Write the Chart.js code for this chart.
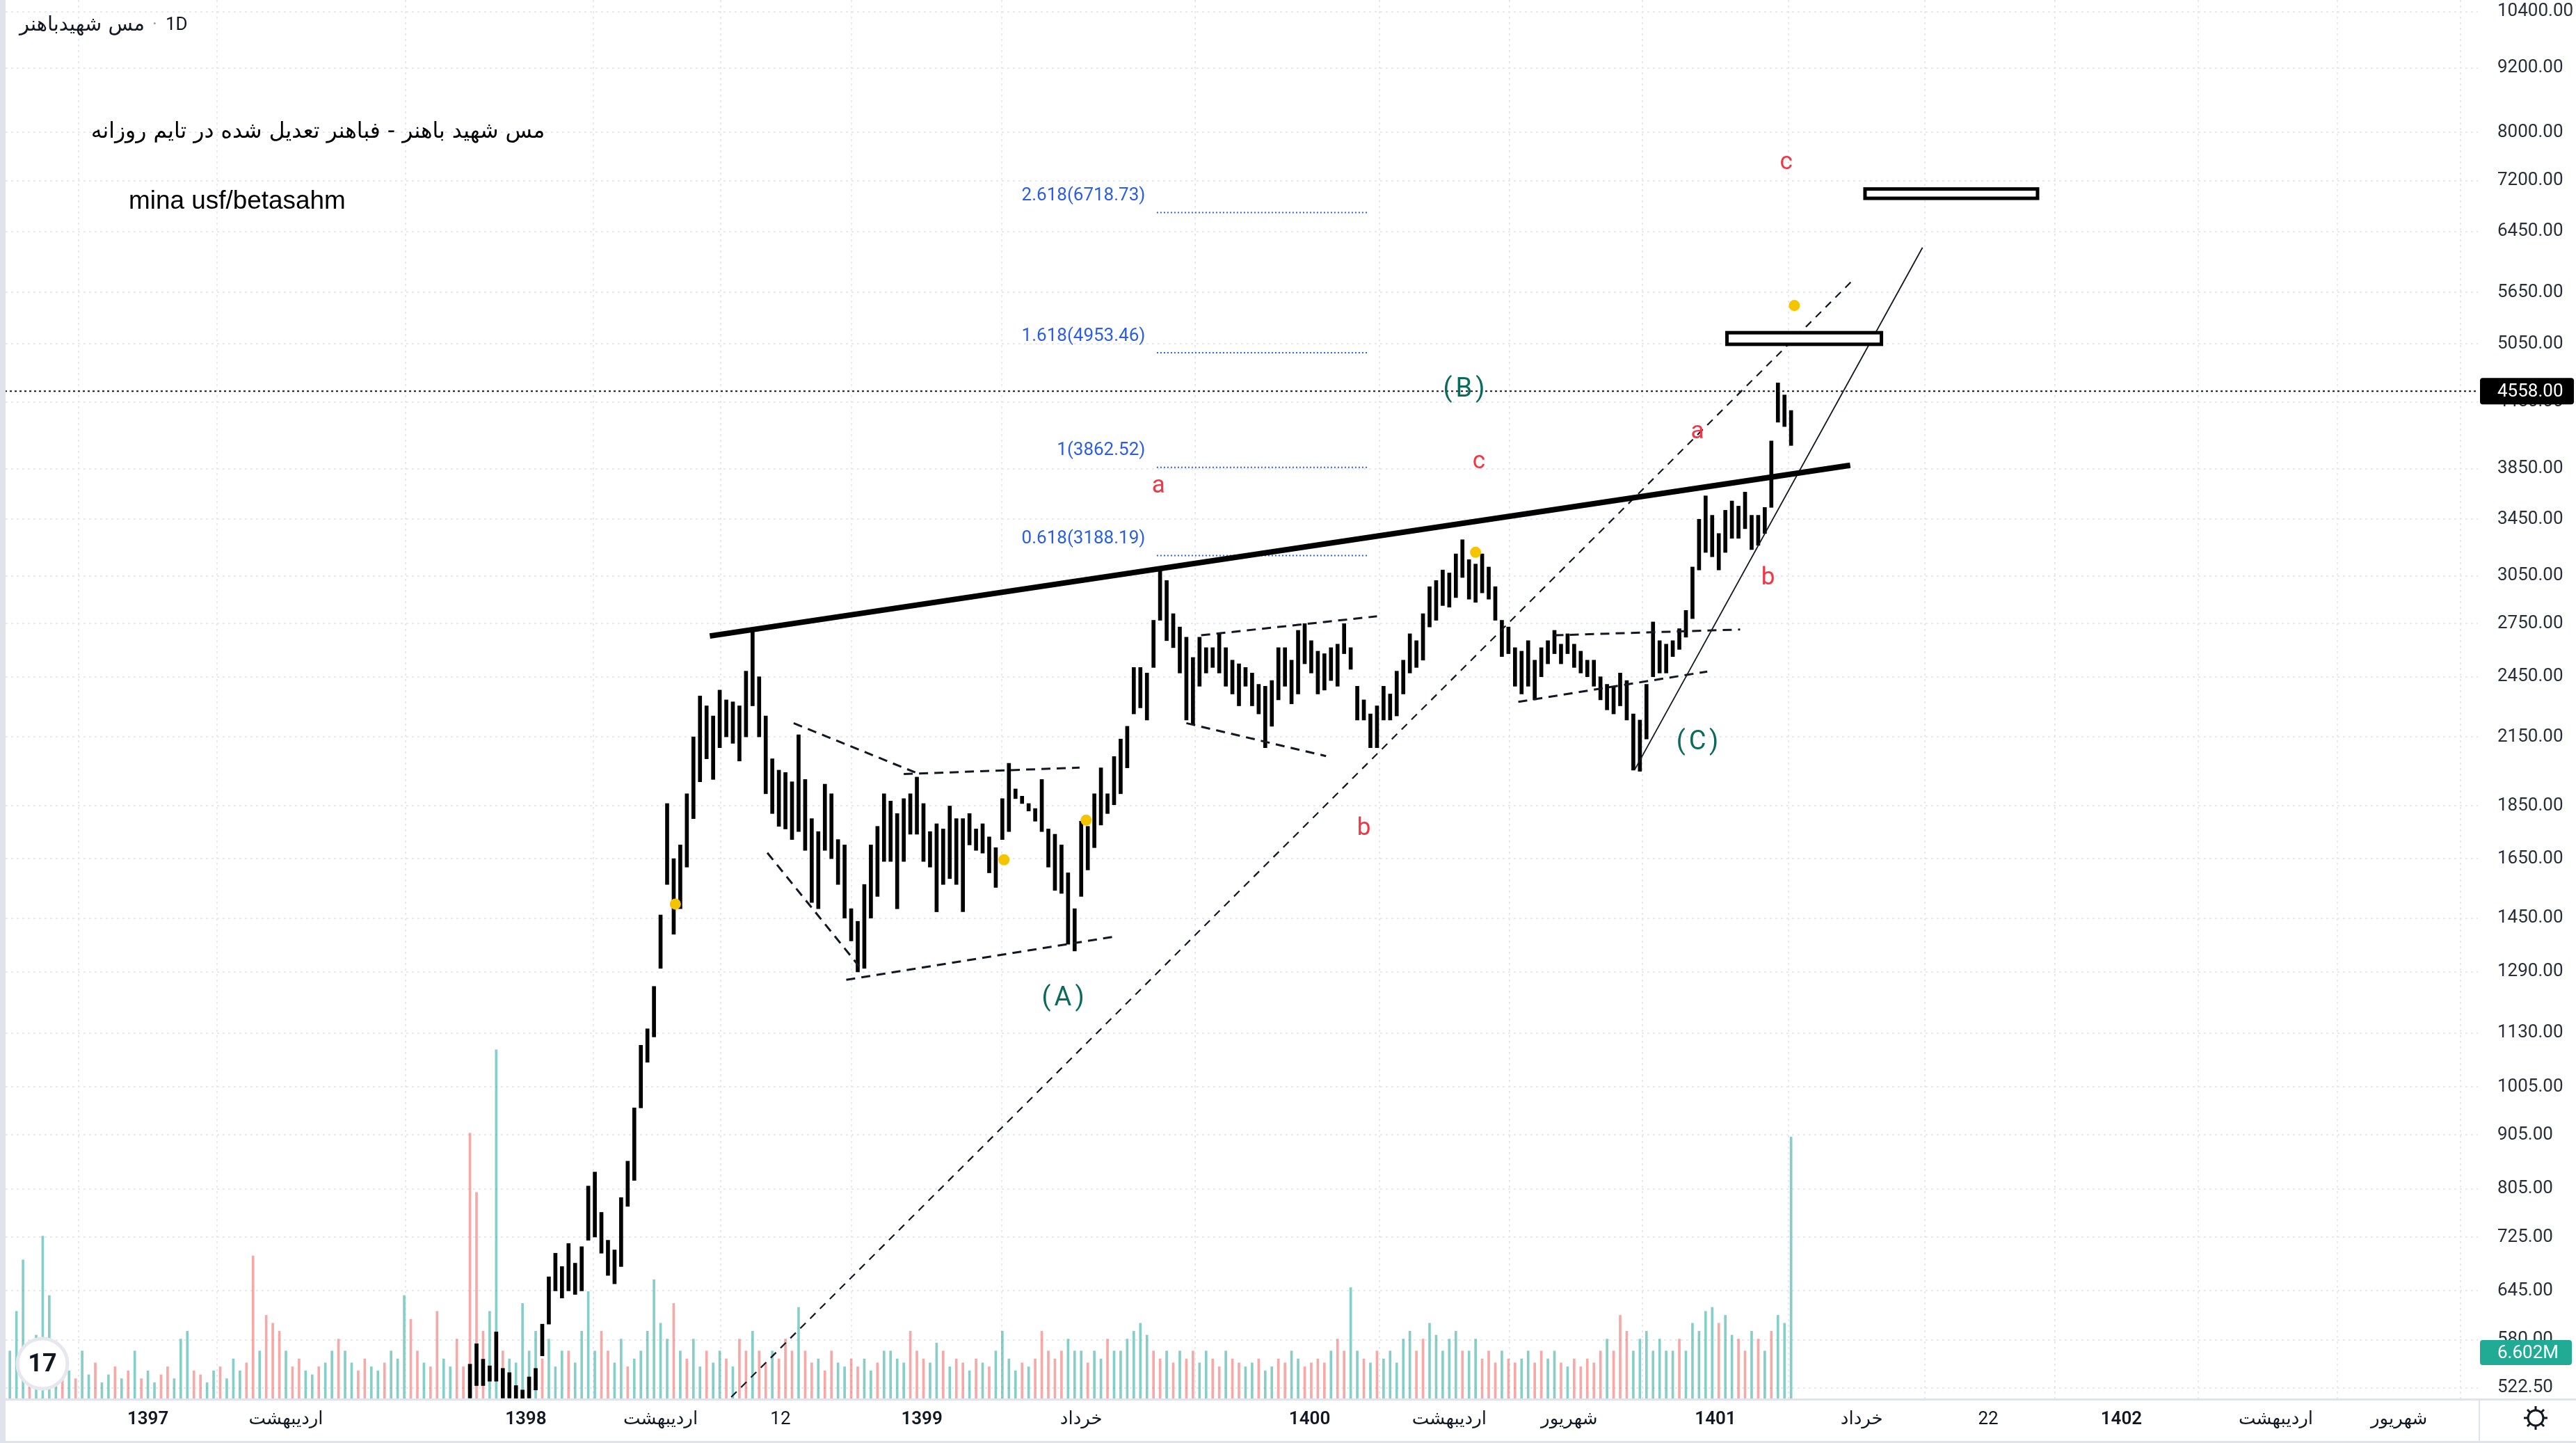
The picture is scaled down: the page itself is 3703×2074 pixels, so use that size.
<!DOCTYPE html>
<html lang="fa">
<head>
<meta charset="UTF-8">
<title>مس شهیدباهنر · 1D</title>
<script src="https://cdn.jsdelivr.net/npm/chart.js"></script>
<style>
  html, body { margin: 0; padding: 0; background: #fff; overflow: hidden; }
  canvas { display: block; }
</style>
</head>
<body>
<canvas id="myChart" width="3703" height="2074" style="width:3703px;height:2074px"></canvas>
<script>
// x values are trading-day (bar) numbers counted from the left edge of the pane
const firstCandleBar = 286;
const candleStep = 4;

// each candle covers 4 daily bars: high / low
const highs = [
  550, 575, 556, 548, 590, 545, 540, 525, 520, 535,
  545, 600, 665, 700, 680, 715, 685, 710, 810, 835,
  765, 720, 705, 790, 855, 960, 1100, 1140, 1250, 1460,
  1860, 1650, 1700, 1900, 2150, 2350, 2300, 2250, 2380, 2330,
  2320, 2300, 2480, 2720, 2450, 2250, 2050, 2000, 1990, 1950,
  2160, 1960, 1800, 1750, 1940, 1900, 1720, 1700, 1480, 1440,
  1560, 1700, 1770, 1900, 1870, 1820, 1880, 1900, 1970, 1860,
  1750, 1780, 1760, 1850, 1800, 1800, 1820, 1760, 1780, 1730,
  1690, 1880, 2030, 1920, 1890, 1860, 1840, 1960, 1760, 1740,
  1700, 1600, 1480, 1790, 1770, 1900, 2010, 1900, 2060, 2140,
  2200, 2500, 2500, 2470, 2770, 3090, 3020, 2810, 2730, 2670,
  2555, 2670, 2610, 2610, 2690, 2610, 2540, 2520, 2500, 2470,
  2410, 2400, 2430, 2610, 2610, 2540, 2710, 2750, 2650, 2590,
  2576, 2610, 2630, 2750, 2610, 2400, 2330, 2260, 2300, 2400,
  2360, 2480, 2540, 2690, 2650, 2810, 2980, 3020, 3090, 3070,
  3200, 3300, 3160, 3130, 3200, 3110, 2980, 2770, 2730, 2610,
  2590, 2650, 2540, 2610, 2650, 2710, 2630, 2690, 2630, 2590,
  2540, 2540, 2450, 2410, 2400, 2470, 2430, 2260, 2230, 2410,
  2760, 2650, 2630, 2650, 2720, 2830, 3110, 3450, 3630, 3480,
  3345, 3518, 3590, 3550, 3660, 3480, 3480, 3540, 4090, 4640,
  4520, 4370
];
const lows = [
  511, 525, 525, 530, 530, 511, 511, 510, 510, 511,
  520, 560, 600, 645, 635, 645, 640, 645, 720, 725,
  700, 667, 655, 680, 775, 820, 960, 1060, 1120, 1300,
  1560, 1400, 1480, 1620, 1800, 1950, 2050, 1960, 2100, 2150,
  2120, 2040, 2150, 2300, 2150, 1900, 1820, 1770, 1760, 1720,
  1750, 1680, 1500, 1480, 1680, 1650, 1560, 1450, 1380, 1290,
  1300, 1450, 1520, 1640, 1640, 1480, 1640, 1740, 1740, 1640,
  1620, 1470, 1560, 1580, 1560, 1470, 1700, 1680, 1670, 1600,
  1550, 1720, 1750, 1880, 1860, 1830, 1790, 1750, 1620, 1540,
  1530, 1370, 1350, 1520, 1610, 1690, 1775, 1820, 1855, 1900,
  2010, 2260, 2290, 2230, 2500, 2770, 2650, 2610, 2470, 2230,
  2210, 2400, 2470, 2500, 2470, 2400, 2360, 2300, 2400, 2300,
  2260, 2100, 2200, 2330, 2400, 2310, 2360, 2520, 2470, 2360,
  2380, 2430, 2400, 2576, 2490, 2230, 2230, 2100, 2100, 2230,
  2230, 2250, 2360, 2470, 2500, 2540, 2730, 2770, 2860, 2850,
  2910, 3040, 2900, 2880, 2940, 2900, 2770, 2560, 2576, 2400,
  2360, 2400, 2330, 2450, 2520, 2576, 2520, 2576, 2500, 2470,
  2450, 2400, 2330, 2280, 2260, 2300, 2230, 2000, 1995, 2140,
  2450, 2470, 2470, 2560, 2600, 2670, 2780, 3090, 3210, 3180,
  3090, 3210, 3310, 3310, 3380, 3230, 3260, 3345, 3540, 4260,
  4220, 4050
];

// volume, millions, also grouped by 4 bars
const firstVolumeBar = 2;
const volumeStep = 4;
const volumes = [
  2.1, 1.2, 2.2, 3.5, 1.0, 1.6, 4.1, 2.6, 0.8, 0.6,
  0.7, 0.5, 1.2, 0.6, 0.9, 0.4, 0.6, 0.8, 0.5, 0.7,
  1.2, 0.5, 0.7, 0.4, 0.6, 0.8, 0.5, 1.5, 1.7, 0.7,
  0.6, 0.4, 0.7, 0.8, 0.5, 1.0, 0.7, 0.9, 3.6, 1.2,
  2.1, 1.9, 1.7, 1.2, 0.8, 1.0, 0.7, 0.6, 0.8, 0.9,
  1.2, 1.5, 1.2, 0.9, 0.7, 1.0, 0.8, 0.7, 0.9, 1.2,
  1.0, 2.6, 2.0, 1.2, 0.9, 0.8, 2.2, 1.0, 0.8, 1.5,
  0.8, 6.7, 5.2, 1.7, 2.2, 8.8, 1.2, 1.0, 0.9, 2.4,
  1.2, 1.7, 1.0, 1.5, 0.8, 1.2, 1.2, 0.9, 1.7, 2.7,
  1.2, 1.7, 1.2, 0.9, 1.5, 0.8, 1.0, 1.2, 1.7, 3.0,
  1.9, 1.5, 2.4, 1.2, 1.0, 1.5, 0.8, 1.2, 0.9, 1.2,
  1.0, 0.8, 1.5, 1.2, 1.7, 1.2, 0.9, 1.2, 1.0, 1.5,
  1.2, 2.3, 1.2, 0.9, 1.0, 0.7, 1.2, 0.9, 0.8, 1.0,
  0.8, 1.0, 0.7, 0.9, 1.2, 1.2, 1.0, 0.9, 1.7, 1.2,
  1.0, 0.9, 1.4, 1.2, 0.8, 1.0, 0.9, 0.7, 1.0, 0.9,
  0.8, 1.2, 1.7, 1.0, 0.7, 0.9, 0.8, 1.0, 1.7, 1.2,
  1.0, 1.2, 1.5, 1.2, 1.2, 0.9, 1.2, 1.0, 1.5, 1.2,
  1.2, 1.5, 1.7, 1.9, 1.6, 1.2, 1.0, 1.2, 0.9, 1.2,
  1.0, 1.2, 0.9, 1.2, 1.0, 0.8, 1.2, 1.0, 0.9, 0.8,
  0.9, 1.0, 0.7, 0.8, 1.0, 0.9, 1.2, 1.0, 0.8, 0.9,
  1.0, 0.9, 1.2, 1.5, 1.2, 2.8, 1.2, 1.0, 0.9, 1.2,
  1.0, 1.2, 0.9, 1.5, 1.7, 1.2, 1.5, 1.9, 1.6, 1.2,
  1.5, 1.7, 1.2, 1.2, 1.5, 1.0, 1.2, 0.9, 1.2, 1.0,
  0.9, 1.0, 1.2, 0.9, 1.2, 1.0, 1.2, 0.9, 0.8, 1.0,
  0.8, 1.0, 0.9, 1.2, 1.5, 1.2, 2.1, 1.7, 1.2, 1.5,
  1.7, 1.2, 1.5, 1.2, 1.2, 1.5, 1.2, 1.9, 1.7, 2.2,
  2.3, 1.9, 2.1, 1.6, 1.5, 1.2, 1.7, 1.5, 1.2, 1.7,
  2.1, 1.9, 6.602
];
// u = up day (green), d = down day (red)
const volumeDir = (
  'uuuuduuuud' + 'uduuduudud' + 'uduudduuud' + 'duuduuuddu' + 'dddudduudu' +
  'uduudduudu' + 'uuddudduud' + 'dddduuduuu' + 'uuduuuduuu' + 'udduuduuuu' +
  'uududuuduu' + 'dudduddudd' + 'duddudduud' + 'duuduuuudd' + 'duududdudu' +
  'duuuududdd' + 'dduuuduudu' + 'uuuuuddudu' + 'dduudduddu' + 'uduudduudd' +
  'ddudduudud' + 'uuuuudduuu' + 'uuduudddud' + 'duudduudud' + 'dddduddduu' +
  'uuuuuduuuu' + 'uduuddudud' + 'uuu'
).split('');

const priceTicks = [10400, 9200, 8000, 7200, 6450, 5650, 5050, 4450, 3850, 3450, 3050, 2750,
  2450, 2150, 1850, 1650, 1450, 1290, 1130, 1005, 905, 805, 725, 645, 580, 522.5];
const timeTicks = [90, 174, 320, 402, 475, 561, 658, 797, 882, 955, 1044, 1133, 1210, 1291, 1385, 1460];
const timeLabels = ['1397', 'اردیبهشت', '1398', 'اردیبهشت', '12', '1399', 'خرداد', '1400',
  'اردیبهشت', 'شهریور', '1401', 'خرداد', '22', '1402', 'اردیبهشت', 'شهریور'];
const lastPrice = 4558;
const lastVolume = 6.602;

const fibRatios = ['2.618', '1.618', '1', '0.618'];
const fibPrices = [6718.73, 4953.46, 3862.52, 3188.19];

// drawing tools, anchored as [bar, price]
const fibSpan = [704, 832];
const fibLabelBar = 697;
const resistance = [[432, 2677], [1126, 3879]];
const longTrend = [[445, 512], [1128, 5810]];
const channelLine = [[995, 2004], [1170, 6227]];
const dashedLines = [
  [[483, 2215], [557, 1990]], [[550, 1983], [657, 2011]],
  [[467, 1671], [523, 1305]], [[515, 1268], [677, 1392]],
  [[731, 2681], [838, 2794]], [[722, 2215], [807, 2062]],
  [[946, 2681], [1059, 2715]], [[924, 2320], [1039, 2478]]
];
const targetBoxes = [[[1135, 7072], [1240, 6930]], [[1051, 5175], [1145, 5046]]];
const dots = [[411, 1495], [611, 1646], [661, 1794], [898, 3211], [1092, 5490]];
const waveLabels = [
  ['a', 705, 3703, false], ['c', 900, 3906, false], ['b', 830, 1761, false],
  ['a', 1033, 4168, false], ['b', 1076, 3033, false], ['c', 1087, 7488, false],
  ['(A)', 648, 1216, true], ['(B)', 892, 4572, true], ['(C)', 1034, 2122, true]
];

const axisFont = 'Roboto, "DejaVu Sans", sans-serif';
const red = '#f23645';
const green = '#0b6b58';
const fibBlue = '#2a5ee8';

const candleData = highs.map((h, i) => ({ x: firstCandleBar + i * candleStep, y: [lows[i], h] }));
const volumeData = volumes.map((v, i) => ({ x: firstVolumeBar + i * volumeStep, y: v }));

function pt(chart, p) {
  return [chart.scales.x.getPixelForValue(p[0]), chart.scales.y.getPixelForValue(p[1])];
}
function stroke(ctx, x1, y1, x2, y2, width, color, dash) {
  ctx.save();
  ctx.lineWidth = width;
  ctx.strokeStyle = color;
  ctx.setLineDash(dash || []);
  ctx.beginPath();
  ctx.moveTo(x1, y1);
  ctx.lineTo(x2, y2);
  ctx.stroke();
  ctx.restore();
}
function segment(ctx, chart, seg, width, color, dash) {
  const [x1, y1] = pt(chart, seg[0]);
  const [x2, y2] = pt(chart, seg[1]);
  stroke(ctx, x1, y1, x2, y2, width, color, dash);
}
function fitFont(ctx, text, family, weight, width) {
  ctx.font = weight + ' 100px ' + family;
  return 100 * width / ctx.measureText(text).width;
}
function roundBox(ctx, x, y, w, h, r, fill) {
  ctx.beginPath();
  ctx.roundRect(x, y, w, h, r);
  ctx.fillStyle = fill;
  ctx.fill();
}

const drawings = {
  id: 'drawings',
  afterDatasetsDraw(chart) {
    const { ctx, chartArea: a } = chart;
    ctx.save();
    ctx.beginPath();
    ctx.rect(a.left, a.top, a.right - a.left, a.bottom - a.top);
    ctx.clip();

    // last price line
    const yLast = chart.scales.y.getPixelForValue(lastPrice);
    stroke(ctx, a.left, yLast, a.right, yLast, 2, '#131722', [3, 4]);

    // fib extension levels
    fibPrices.forEach((p, i) => {
      const [x1, y] = pt(chart, [fibSpan[0], p]);
      const [x2] = pt(chart, [fibSpan[1], p]);
      stroke(ctx, x1, y, x2, y, 2, fibBlue, [2, 3]);
      const [xl] = pt(chart, [fibLabelBar, p]);
      ctx.font = '26px ' + axisFont;
      ctx.fillStyle = fibBlue;
      ctx.textAlign = 'right';
      ctx.textBaseline = 'middle';
      ctx.fillText(fibRatios[i] + '(' + p.toFixed(2) + ')', xl, y - 24);
    });

    dashedLines.forEach(s => segment(ctx, chart, s, 3, '#131722', [13, 9]));
    segment(ctx, chart, longTrend, 2.2, '#131722', [11, 9]);
    segment(ctx, chart, channelLine, 1.8, '#131722');
    segment(ctx, chart, resistance, 8, '#000000');

    targetBoxes.forEach(b => {
      const [x1, y1] = pt(chart, b[0]);
      const [x2, y2] = pt(chart, b[1]);
      ctx.fillStyle = '#ffffff';
      ctx.fillRect(x1, y1, x2 - x1, y2 - y1);
      ctx.lineWidth = 5;
      ctx.strokeStyle = '#000000';
      ctx.setLineDash([]);
      ctx.strokeRect(x1, y1, x2 - x1, y2 - y1);
    });

    dots.forEach(d => {
      const [x, y] = pt(chart, d);
      ctx.beginPath();
      ctx.arc(x, y, 8, 0, Math.PI * 2);
      ctx.fillStyle = '#f5c400';
      ctx.fill();
    });

    waveLabels.forEach(([t, bar, p, major]) => {
      const [x, y] = pt(chart, [bar, p]);
      ctx.font = (major ? '38px ' : '35px ') + axisFont;
      ctx.letterSpacing = major ? '5px' : '0px';
      ctx.fillStyle = major ? green : red;
      ctx.textAlign = 'center';
      ctx.textBaseline = 'middle';
      ctx.fillText(t, x, y);
    });
    ctx.letterSpacing = '0px';
    ctx.restore();
  },
  afterDraw(chart) {
    const { ctx, chartArea: a, width, height } = chart;
    ctx.save();

    // frame lines
    ctx.fillStyle = '#e0e3eb';
    ctx.fillRect(0, 0, 8, height);
    ctx.fillRect(0, a.bottom, width, 3);
    ctx.fillRect(0, height - 3, width, 3);
    ctx.fillRect(a.right + 1, a.bottom, 2, height - a.bottom);

    // price scale labels
    const yLast = chart.scales.y.getPixelForValue(lastPrice);
    roundBox(ctx, a.right + 3, yLast - 19, 135, 38, 4, '#000000');
    ctx.font = '26px ' + axisFont;
    ctx.fillStyle = '#ffffff';
    ctx.textAlign = 'left';
    ctx.textBaseline = 'middle';
    ctx.fillText(lastPrice.toFixed(2), a.right + 28, yLast + 1);

    const yVol = a.bottom - 66;
    roundBox(ctx, a.right + 3, yVol - 18, 132, 36, 4, '#22ab94');
    ctx.fillStyle = '#ffffff';
    ctx.fillText(lastVolume.toFixed(3) + 'M', a.right + 28, yVol + 1);

    // header
    ctx.fillStyle = '#131722';
    ctx.textAlign = 'left';
    const sym = 'مس شهیدباهنر';
    const symSize = fitFont(ctx, sym, '"DejaVu Sans", sans-serif', '400', 180);
    ctx.font = symSize + 'px "DejaVu Sans", sans-serif';
    ctx.fillText(sym, 28, 36);
    ctx.fillStyle = '#9598a1';
    ctx.font = '26px ' + axisFont;
    ctx.fillText('·', 219, 36);
    ctx.fillStyle = '#131722';
    ctx.fillText('1D', 238, 36);

    // notes on the chart
    const title = 'مس شهید باهنر - فباهنر تعدیل شده در تایم روزانه';
    const tSize = fitFont(ctx, title, '"DejaVu Sans", sans-serif', '400', 653);
    ctx.font = tSize + 'px "DejaVu Sans", sans-serif';
    ctx.direction = 'rtl';
    ctx.textAlign = 'center';
    ctx.fillStyle = '#000000';
    ctx.fillText(title, 457, 190);
    ctx.direction = 'ltr';

    const sig = 'mina usf/betasahm';
    const sFam = '"Liberation Sans Narrow", "Liberation Sans", sans-serif';
    const sSize = fitFont(ctx, sig, sFam, '400', 312);
    ctx.font = sSize + 'px ' + sFam;
    ctx.textAlign = 'left';
    ctx.fillText(sig, 185, 290);

    // logo
    ctx.beginPath();
    ctx.arc(61, 1960, 36, 0, Math.PI * 2);
    ctx.fillStyle = '#ffffff';
    ctx.fill();
    ctx.lineWidth = 5;
    ctx.strokeStyle = '#e6e8ee';
    ctx.stroke();
    ctx.fillStyle = '#131722';
    ctx.font = 'bold 36px ' + axisFont;
    ctx.textAlign = 'center';
    ctx.fillText('17', 61, 1962);

    // settings gear
    const gx = 3645, gy = 2038;
    ctx.strokeStyle = '#131722';
    ctx.lineWidth = 3;
    ctx.beginPath();
    ctx.arc(gx, gy, 11, 0, Math.PI * 2);
    ctx.stroke();
    for (let k = 0; k < 8; k++) {
      const ang = k * Math.PI / 4;
      stroke(ctx, gx + Math.cos(ang) * 11, gy + Math.sin(ang) * 11,
        gx + Math.cos(ang) * 17, gy + Math.sin(ang) * 17, 3, '#131722');
    }
    ctx.restore();
  }
};

const ctx = document.getElementById('myChart').getContext('2d');
new Chart(ctx, {
  type: 'bar',
  data: {
    datasets: [
      {
        label: 'price',
        data: candleData,
        backgroundColor: '#000000',
        barThickness: 5,
        grouped: false,
        yAxisID: 'y',
        order: 1
      },
      {
        label: 'volume',
        data: volumeData,
        backgroundColor: c => volumeDir[c.dataIndex] === 'u' ? 'rgba(38,166,154,0.55)' : 'rgba(239,83,80,0.5)',
        barThickness: 3,
        grouped: false,
        yAxisID: 'vol',
        order: 2
      }
    ]
  },
  options: {
    responsive: false,
    devicePixelRatio: 1,
    animation: false,
    layout: { padding: 0 },
    plugins: { legend: { display: false }, tooltip: { enabled: false } },
    scales: {
      x: {
        type: 'linear',
        min: 0,
        max: 1508,
        offset: false,
        position: 'bottom',
        afterBuildTicks: s => { s.ticks = timeTicks.map(v => ({ value: v })); },
        afterFit: s => { s.height = 64; s.paddingLeft = 0; s.paddingRight = 0; },
        ticks: {
          autoSkip: false,
          maxRotation: 0,
          padding: 15,
          color: '#131722',
          font: c => ({ family: axisFont, size: 26, weight: /^\d{4}$/.test(timeLabels[c.index]) ? '600' : '400' }),
          callback: (v, i) => timeLabels[i]
        },
        grid: { color: '#e6e9ef', lineWidth: 2, drawTicks: false },
        border: { display: false, dash: [3, 5] }
      },
      y: {
        type: 'logarithmic',
        position: 'right',
        min: 510.5,
        max: 10664,
        afterBuildTicks: s => { s.ticks = priceTicks.map(v => ({ value: v })); },
        afterFit: s => { s.width = 141; s.paddingTop = 0; s.paddingBottom = 0; },
        ticks: {
          autoSkip: false,
          padding: 28,
          color: '#2a2e39',
          font: { family: axisFont, size: 26 },
          callback: v => Number(v).toFixed(2)
        },
        grid: { color: '#e6e9ef', lineWidth: 2, drawTicks: false },
        border: { display: false, dash: [3, 5] }
      },
      vol: {
        type: 'linear',
        display: false,
        min: 0,
        max: 35.3
      }
    }
  },
  plugins: [drawings]
});
</script>
</body>
</html>
